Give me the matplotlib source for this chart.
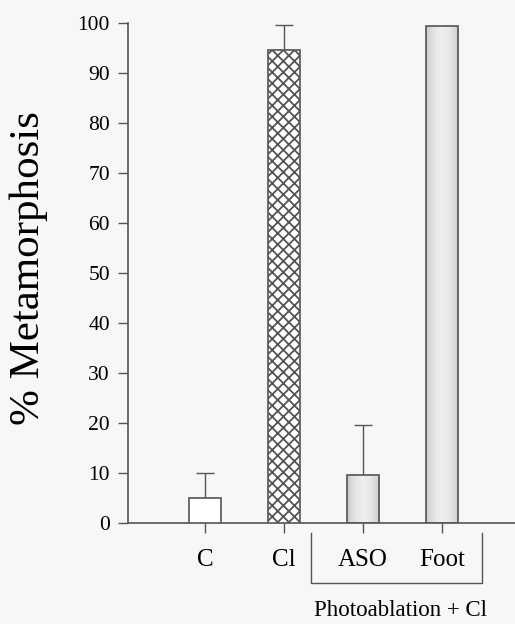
import numpy as np
import matplotlib
matplotlib.use("Agg")
import matplotlib.pyplot as plt

categories = ["C", "Cl", "ASO", "Foot"]
means = [5, 94.5, 9.5, 99.3]
errors = [5, 5, 10, 0]
group_label = "Photoablation + Cl"

plt.rcParams['font.family'] = ['Liberation Serif', 'DejaVu Serif']
plt.rcParams['hatch.color'] = '#333333'
plt.rcParams['hatch.linewidth'] = 1.3
bg = '#f8f6f7'
edge = '#555555'

fig = plt.figure(figsize=(5.15, 6.24), dpi=100, facecolor=bg)
ax = fig.add_axes([0.2485, 0.1619, 0.76, 0.8013], facecolor=bg)

x = np.arange(1, len(categories) + 1)
w = 0.41

# plain, hatched, then two grey shaded bars
bars = ax.bar(x, means, width=w, color='none', edgecolor=edge, linewidth=1.2, zorder=3)
bars[0].set_facecolor('white')
bars[1].set_facecolor('white')
bars[1].set_hatch('xxx')

shade = 0.93 - 0.14 * np.abs(np.linspace(-1, 1, 60)) ** 2
grad = np.dstack([shade, shade, shade])
grad = np.repeat(grad, 2, axis=0)
for b in bars[2:]:
    x0 = b.get_x()
    im = ax.imshow(grad, aspect='auto', extent=(x0, x0 + w, 0, b.get_height()), zorder=2)
    im.set_clip_path(b)

for xi, m, e in zip(x, means, errors):
    if e > 0:
        ax.errorbar(xi, m, yerr=[[0], [e]], color=edge, capsize=6.5,
                    elinewidth=1, capthick=1, zorder=1)

ax.set_xlim(0.02, 4.98)
ax.set_ylim(0, 100)
ax.set_yticks(range(0, 101, 10))
ax.set_xticks(x)
ax.set_xticklabels(categories, fontsize=18)
ax.tick_params(axis='y', labelsize=15.5, pad=6)
ax.tick_params(axis='both', color=edge, length=7, width=1)
ax.tick_params(axis='x', pad=12)
for s in ['top', 'right']:
    ax.spines[s].set_visible(False)
for s in ['left', 'bottom']:
    ax.spines[s].set_color(edge)
    ax.spines[s].set_linewidth(1.2)

ax.set_ylabel("% Metamorphosis", fontsize=31, labelpad=18)
ax.yaxis.set_label_coords(-0.205, 0.51)

# bracket under the photoablation groups
bx0, bx1 = 311 / 515, 482 / 515
by0, by1 = 1 - 533 / 624, 1 - 583 / 624
fig.add_artist(plt.Line2D([bx0, bx0, bx1, bx1], [by0, by1, by1, by0],
                          transform=fig.transFigure, color=edge, linewidth=1))
fig.text(400 / 515, 1 - 611 / 624, group_label, ha='center', va='center', fontsize=16.5)

fig.savefig("out.png", dpi=100, facecolor=bg)
